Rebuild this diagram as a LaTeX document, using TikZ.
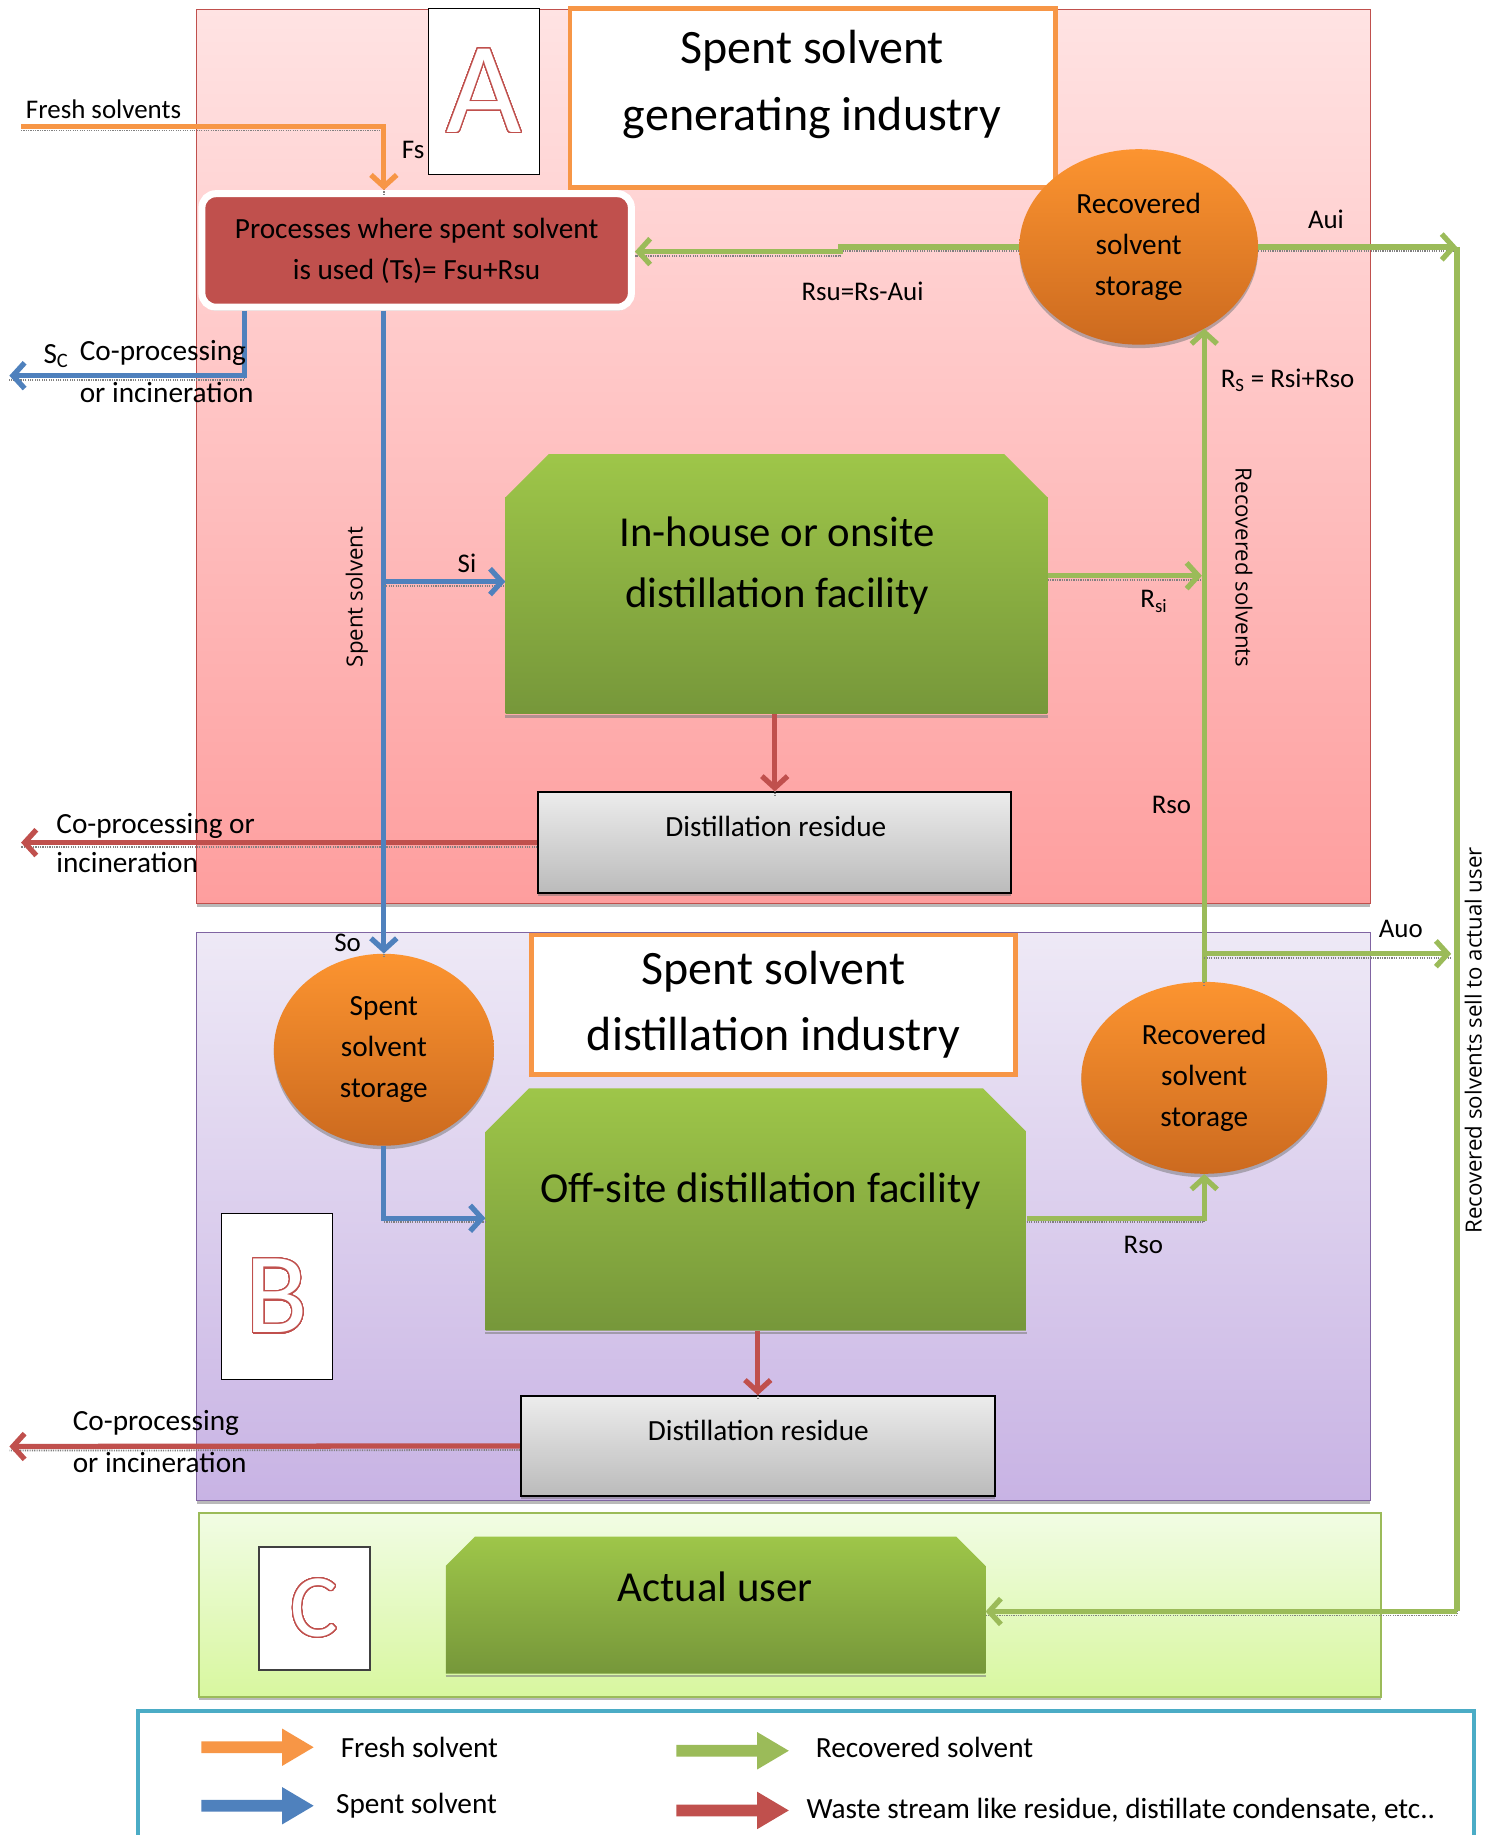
\documentclass[tikz,border=0pt]{standalone}
\usepackage{fontspec}
\setmainfont{Carlito}
\newfontfamily\sego{Open Sans}
\usepackage[copies]{contour}
\contourlength{1.1pt}
\contournumber{40}
\usetikzlibrary{arrows.meta,shapes.geometric,shadows}
\definecolor{cOrange}{HTML}{F79646}
\definecolor{cBlue}{HTML}{4F81BD}
\definecolor{cGreen}{HTML}{9BBB59}
\definecolor{cRed}{HTML}{C0504D}
\definecolor{cPurple}{HTML}{8064A2}
\definecolor{cCyan}{HTML}{4BACC6}
\definecolor{pAtop}{HTML}{FFE3E3}
\definecolor{pAbot}{HTML}{FE9E9E}
\definecolor{pBtop}{HTML}{EEE9F6}
\definecolor{pBbot}{HTML}{C8B3E4}
\definecolor{pCtop}{HTML}{F1FCE4}
\definecolor{pCbot}{HTML}{D8F79F}
\definecolor{oTop}{HTML}{FC9430}
\definecolor{oBot}{HTML}{CC6A1F}
\definecolor{gTop}{HTML}{9EC649}
\definecolor{gBot}{HTML}{76973A}
\definecolor{gyTop}{HTML}{ECECEC}
\definecolor{gyBot}{HTML}{BBBBBB}
\newcommand\fsz[2]{\fontsize{#1}{#2}\selectfont}
\begin{document}
\begin{tikzpicture}[x=1pt,y=-1pt,
  conn/.style={line width=4.5pt,-{Straight Barb[length=10pt,width=22pt]},
    preaction={draw=black!50,line width=1.5pt,dash pattern=on 1pt off 1pt,arrows=-,transform canvas={yshift=-3.5pt}}},
  freshc/.style={conn,draw=cOrange},
  spentc/.style={conn,draw=cBlue},
  recc/.style={conn,draw=cGreen},
  wastec/.style={conn,draw=cRed},
  shad/.style={drop shadow={shadow xshift=0pt,shadow yshift=-3pt,fill=black!55,opacity=0.5}},
  panel/.style={rectangle,inner sep=0pt,line width=1pt,shad},
  letterbox/.style={rectangle,draw=black,line width=1pt,fill=white,inner sep=0pt,minimum width=95pt},
  titlebox/.style={rectangle,draw=cOrange,line width=4pt,fill=white,inner sep=0pt,align=center,font=\fsz{41}{57}},
  storage/.style={ellipse,inner sep=0pt,top color=oTop,bottom color=oBot,align=center,font=\fsz{25}{35},shad},
  chamf/.style={path picture={\shade[top color=gTop,bottom color=gBot]
      ([yshift=-#1]path picture bounding box.north west) -- ([xshift=#1]path picture bounding box.north west)
      -- ([xshift=-#1]path picture bounding box.north east) -- ([yshift=-#1]path picture bounding box.north east)
      -- (path picture bounding box.south east) -- (path picture bounding box.south west) -- cycle;}},
  facility/.style={rectangle,inner sep=0pt,chamf=#1},
  residue/.style={rectangle,draw=black,line width=1.5pt,top color=gyTop,bottom color=gyBot,inner sep=0pt,shad},
  boxtxt/.style={inner sep=0pt,align=center,font=\fsz{36.5}{52}},
  lbl/.style={inner sep=0pt,font=\fsz{23}{30}},
  big/.style={inner sep=0pt,font=\fsz{25}{34}},
  vlbl/.style={inner sep=0pt,font=\sego\fsz{19}{24}},
  bshadow/.style={draw=black!50,line width=2pt,opacity=0.6},
  legarrow/.pic={\fill (0,-5) -- (69,-5) -- (69,-16) -- (96,0) -- (69,16) -- (69,5) -- (0,5) -- cycle;}
]
\useasboundingbox (0,0) rectangle (1279,1568);

% ---------- panels ----------
\node[panel,minimum width=1003pt,minimum height=764pt,top color=pAtop,bottom color=pAbot,draw=cRed] (panA) at (669.5,390) {};
\node[panel,minimum width=1003pt,minimum height=485pt,top color=pBtop,bottom color=pBbot,draw=cPurple] (panB) at (669.5,1039.5) {};
\node[panel,minimum width=1010pt,minimum height=157pt,top color=pCtop,bottom color=pCbot,draw=cGreen,line width=1.5pt] (panC) at (675,1371.5) {};

% ---------- letter boxes ----------
\node[letterbox,minimum height=142pt] (boxA) at (413.5,78) {\fsz{111}{111}\color{white}\contour{cRed}{A}};
\node[letterbox,minimum height=142pt] (boxB) at (236.5,1108) {\fsz{98}{98}\color{white}\contour{cRed}{B}};
\node[letterbox,minimum height=105pt,draw=black!75,line width=1.5pt] (boxC) at (268.5,1374.5) {\fsz{76}{76}\color{white}\contour{cRed}{C}};

% ---------- titles ----------
\node[titlebox,minimum width=415pt,minimum height=153pt] (titleA) at (694.5,83.5) {};
\node[inner sep=0pt,align=center,font=\fsz{41}{57}] (titleAtxt) at (694,72) {Spent solvent\\generating industry};
\node[titlebox,minimum width=414pt,minimum height=119pt] (titleB) at (661,858.5) {Spent solvent\\distillation industry};

% ---------- process box ----------
\node[rectangle,rounded corners=12pt,draw=white,line width=6pt,fill=cRed,minimum width=367pt,minimum height=97pt,
      inner sep=0pt,align=center,font=\fsz{25}{35},shad] (proc) at (356,214) {Processes where spent solvent\\is used (Ts)= Fsu+Rsu};

% ---------- storages ----------
\node[storage,minimum width=204pt,minimum height=167pt] (recA) at (973,211) {Recovered\\solvent\\storage};
\node[storage,minimum width=188pt,minimum height=164pt] (sst) at (328,897) {Spent\\solvent\\storage};
\node[storage,minimum width=210pt,minimum height=164pt] (recB) at (1029,921) {Recovered\\solvent\\storage};

% ---------- facilities ----------
\node[facility=37pt,minimum width=463pt,minimum height=222pt] (inh) at (663.5,499) {};
\draw[bshadow] ([yshift=-2pt]inh.south west) -- ([yshift=-2pt]inh.south east);
\node[boxtxt] (inhTxt) at (664,483) {In-house or onsite\\distillation facility};
\node[facility=37pt,minimum width=462pt,minimum height=207pt] (off) at (646,1033.5) {};
\draw[bshadow] ([yshift=-2pt]off.south west) -- ([yshift=-2pt]off.south east);
\node[boxtxt] (offTxt) at (650,1018) {Off-site distillation facility};
\node[facility=25pt,minimum width=461pt,minimum height=117pt] (au) at (611.5,1371.5) {};
\draw[bshadow] ([yshift=-2pt]au.south west) -- ([yshift=-2pt]au.south east);
\node[boxtxt] (auTxt) at (611,1356) {Actual user};

% ---------- residues ----------
\node[residue,minimum width=404pt,minimum height=86pt] (resA) at (662,720) {};
\node[big] (resAtxt) at (663,706) {Distillation residue};
\node[residue,minimum width=405pt,minimum height=85pt] (resB) at (647.5,1235.5) {};
\node[big] (resBtxt) at (648,1222) {Distillation residue};

% ---------- coordinates ----------
\coordinate (fsStart) at (18,108);
\coordinate (scEnd) at (8,321);
\coordinate (siJ) at (328,497);
\coordinate (rsuStep) at (718,215);
\coordinate (auiEnd) at (1245,211);
\coordinate (auCorner) at (1245,1377);
\coordinate (rsiEnd) at (1027,492);
\coordinate (auoJ) at (1029,815);
\coordinate (auoEnd) at (1240,815);
\coordinate (wasteA) at (18,720);
\coordinate (wasteB) at (8,1236);

% ---------- connectors ----------
\draw[wastec] (inh.south -| resA.north) -- (resA.north);
\draw[wastec] (resA.west) -- (wasteA);
\draw[wastec] (off.south -| resB.north) -- (resB.north);
\draw[wastec] (resB.west) -- (wasteB);

\draw[freshc] (fsStart) -| ([xshift=-28pt]proc.north);

\draw[spentc] ([xshift=-28pt]proc.south) -- (sst.north);
\draw[spentc] (siJ) -- (siJ -| inh.west);
\draw[spentc] ([xshift=-147pt]proc.south) |- (scEnd);
\draw[spentc] (sst.south) |- ([yshift=-7.5pt]off.west);

\draw[recc] (recA.west) -| (rsuStep) -- (rsuStep -| proc.east);
\draw[recc] (recA.east) -- (auiEnd);
\draw[recc,-] (auiEnd) -- (auCorner);
\draw[recc] (auCorner) -- (auCorner -| au.east);
\draw[recc] (recB.north) -- (recB.north |- recA.-51);
\draw[recc] (rsiEnd -| inh.east) -- (rsiEnd);
\draw[recc] (auoJ) -- (auoEnd);
\draw[recc] ([yshift=-7.5pt]off.east) -| (recB.south);

% ---------- labels ----------
\node[lbl,anchor=west] (lFresh) at (22,93) {Fresh solvents};
\node[lbl] (lFs) at (353,128) {Fs};
\node[big,anchor=west] (lSc) at (37,304) {S\textsubscript{C}};
\node[big,anchor=west] (lSc1) at (68,302) {Co-processing};
\node[big,anchor=west] (lSc2) at (68,335) {or incineration};
\node[lbl] (lRsu) at (737,249) {Rsu=Rs-Aui};
\node[lbl] (lAui) at (1133,187) {Aui};
\node[lbl,anchor=west] (lRs) at (1043,325) {R\textsubscript{S} = Rsi+Rso};
\node[vlbl,rotate=90] (lSpent) at (305,510) {Spent solvent};
\node[lbl] (lSi) at (399,481) {Si};
\node[vlbl,rotate=-90] (lRecs) at (1063,485) {Recovered solvents};
\node[lbl] (lRsi) at (986,514) {R\textsubscript{si}};
\node[lbl] (lRso1) at (1001,688) {Rso};
\node[big,anchor=west] (lCoA1) at (48,706) {Co-processing or};
\node[big,anchor=west] (lCoA2) at (48,737) {incineration};
\node[lbl] (lSo) at (297,806) {So};
\node[lbl] (lAuo) at (1197,794) {Auo};
\node[lbl] (lRso2) at (977,1064) {Rso};
\node[vlbl,rotate=90] (lSell) at (1259,889) {Recovered solvents sell to actual user};
\node[big,anchor=west] (lCoB1) at (62,1216) {Co-processing};
\node[big,anchor=west] (lCoB2) at (62,1250) {or incineration};

% ---------- legend ----------
\node[draw=cCyan,line width=3.5pt,fill=white,minimum width=1142pt,minimum height=140pt,inner sep=0pt,anchor=north west] (legend) at (116,1460) {};
\pic[color=cOrange] at (172,1493) {legarrow};
\pic[color=cBlue] at (172,1543) {legarrow};
\pic[color=cGreen] at (578,1496) {legarrow};
\pic[color=cRed] at (578,1547) {legarrow};
\node[big,anchor=west] (legFresh) at (291,1493) {Fresh solvent};
\node[big,anchor=west] (legSpent) at (287,1543) {Spent solvent};
\node[big,anchor=west] (legRec) at (697,1493) {Recovered solvent};
\node[big,anchor=west] (legWaste) at (689,1547) {Waste stream like residue, distillate condensate, etc..};
\end{tikzpicture}
\end{document}
